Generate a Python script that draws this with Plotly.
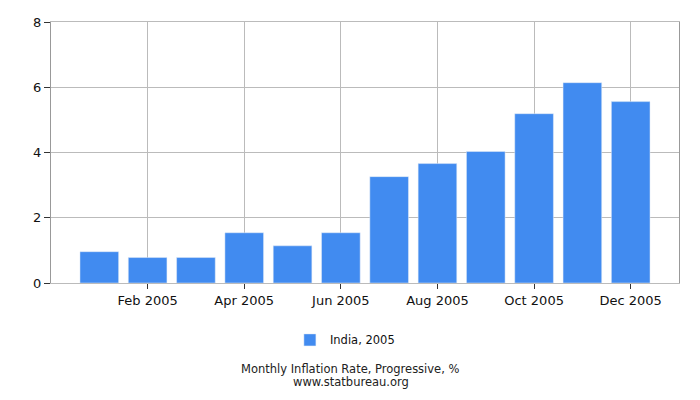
import plotly.graph_objects as go

months = ["Jan", "Feb", "Mar", "Apr", "May", "Jun",
          "Jul", "Aug", "Sep", "Oct", "Nov", "Dec"]
inflation = [0.96, 0.78, 0.78, 1.54, 1.14, 1.54,
             3.26, 3.66, 4.03, 5.19, 6.14, 5.56]
tick_pos = [1, 3, 5, 7, 9, 11]
tick_labels = ["Feb 2005", "Apr 2005", "Jun 2005", "Aug 2005", "Oct 2005", "Dec 2005"]

fig = go.Figure()
fig.add_trace(go.Bar(
    x=list(range(len(months))),
    y=inflation,
    name="India, 2005",
    marker_color="#418BF0",
    width=0.8,
    hovertext=[m + " 2005" for m in months],
))

# page body has an 8px margin, so shift the plot up/left a bit
fig.update_layout(
    width=700, height=400,
    margin=dict(l=43, r=29, t=14, b=125),
    plot_bgcolor="white",
    paper_bgcolor="white",
    font=dict(family="DejaVu Sans", size=13, color="#111"),
    showlegend=True,
    legend=dict(orientation="h", x=0.468, xanchor="center", y=-0.218, yanchor="middle",
                font=dict(size=11.5)),
    annotations=[
        dict(text="Monthly Inflation Rate, Progressive, %",
             x=0.477, xref="paper", y=-0.330, yref="paper", yanchor="middle",
             showarrow=False, font=dict(size=11.5, color="#222")),
        dict(text="www.statbureau.org",
             x=0.477, xref="paper", y=-0.380, yref="paper", yanchor="middle",
             showarrow=False, font=dict(size=11.5, color="#222")),
    ],
)
fig.update_xaxes(
    range=[-1, 12], tickvals=tick_pos, ticktext=tick_labels,
    showgrid=True, gridcolor="#bbbbbb", zeroline=False, automargin=False,
    showline=True, linecolor="#bbbbbb", mirror=True,
    ticks="outside", ticklen=5, tickcolor="#333",
)
fig.update_yaxes(
    range=[0, 8], dtick=2,
    showgrid=True, gridcolor="#bbbbbb", zeroline=False, automargin=False,
    showline=True, linecolor="#999999", mirror=True,
    ticks="outside", ticklen=6, tickcolor="#333",
)

fig.write_html("out.html")
